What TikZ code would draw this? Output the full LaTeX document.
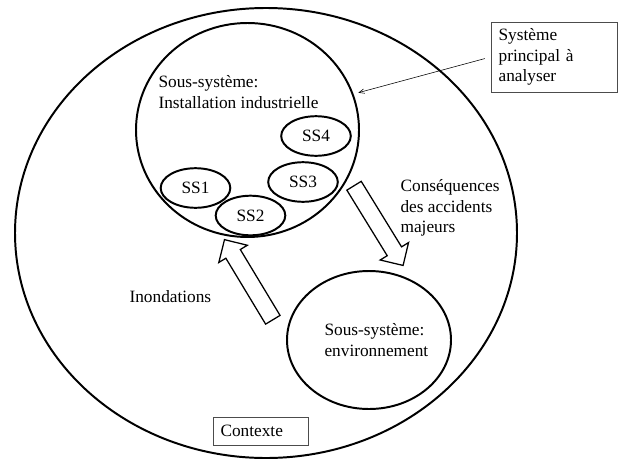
\documentclass[tikz,border=0pt]{standalone}
\usepackage{fontspec}
\setmainfont{Liberation Serif}
\usetikzlibrary{arrows,shapes.geometric,shapes.arrows}

\begin{document}
\begin{tikzpicture}[style=thick,>=angle 45,font=\fontsize{12.3}{14.8}\selectfont,
    blob/.style={draw,ellipse,line width=1.4pt,inner sep=0pt},
    ssblob/.style={blob,minimum width=1.74cm,minimum height=0.99cm},
    lbl/.style={align=left,anchor=west,inner sep=0pt},
    frame/.style={draw=black!70,line width=0.5pt,align=left,inner xsep=0.19cm},
    flow/.style={draw,single arrow,line width=0.9pt,inner xsep=0pt,inner ysep=0.195cm,
        single arrow head extend=0.205cm,single arrow head indent=0cm,minimum height=2.34cm}]

    \useasboundingbox (0,0) rectangle (15.45,11.475);

    % context and the two sub-systems
    \draw (6.65,5.65) node[blob,minimum width=12.55cm,minimum height=11.25cm] (ctx) {};
    \draw (6.1875,8.225) node[blob,minimum width=5.575cm,minimum height=5.35cm] (inst) {};
    \draw (9.225,2.975) node[blob,minimum width=4.1cm,minimum height=3.45cm] (env) {};

    \begin{scope}
        \draw (7.9,8.075) node[ssblob] (ss4) {SS4};
        \draw (7.575,6.925) node[ssblob] (ss3) {SS3};
        \draw (4.8875,6.775) node[ssblob] (ss1) {SS1};
        \draw (6.2625,6.0875) node[ssblob] (ss2) {SS2};
    \end{scope}

    \draw (3.95,9.175) node[lbl] (instlbl) {Sous-système:\\Installation industrielle};
    \draw (8.1,2.975) node[lbl] (envlbl) {Sous-système:\\environnement};

    % flows between the sub-systems
    \draw (9.409,5.925) node[flow,rotate=-58.4] (csq) {};
    \draw (6.271,4.3925) node[flow,rotate=121.1] (inond) {};
    \draw (10.0,6.275) node[lbl] (csqlbl) {Conséquences\\des accidents\\majeurs};
    \draw (3.225,4.05) node[lbl] (inondlbl) {Inondations};

    % boxes
    \draw (13.85,10.05) node[frame,text width=2.77cm,minimum height=1.75cm] (sys) {Système\\principal à\\analyser};
    \coordinate (aim) at (8.9575,9.1575);
    \draw[->,thin,shorten <=0.15cm] (sys.west) -- (aim);
    \draw (6.5125,0.7) node[frame,text width=2.0cm,minimum height=0.7cm] (ctxlbl) {Contexte};

\end{tikzpicture}
\end{document}
